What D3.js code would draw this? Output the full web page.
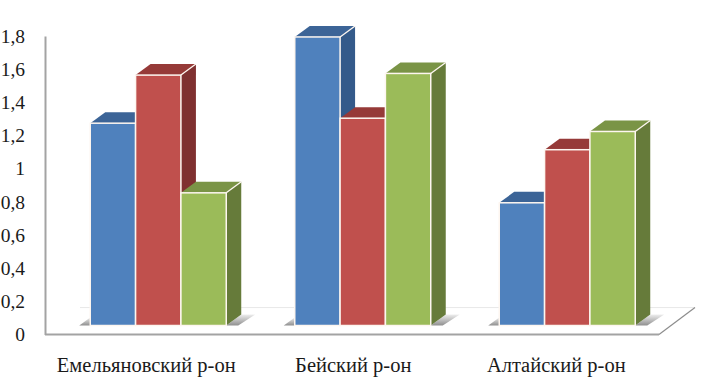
<!DOCTYPE html>
<html>
<head>
<meta charset="utf-8">
<script src="https://cdn.jsdelivr.net/npm/d3@7"></script>
<style>
html, body { margin: 0; padding: 0; background: #fff; }
svg { display: block; }
text { font-family: "Liberation Serif", serif; fill: #1a1a1a; }
</style>
</head>
<body>
<svg id="chart" width="703" height="378"></svg>
<script>
"use strict";
var categories = ["Емельяновский р-он", "Бейский р-он", "Алтайский р-он"];
var seriesNames = ["a", "b", "c"];
var seriesA = [1.22, 1.74, 0.74];
var seriesB = [1.51, 1.25, 1.06];
var seriesC = [0.80, 1.52, 1.17];
var tickValues = [0, 0.2, 0.4, 0.6, 0.8, 1, 1.2, 1.4, 1.6, 1.8];

var frontColors = ["#4f81bd", "#c0504d", "#9bbb59"];
var topColors = ["#3c6497", "#963a38", "#7a9446"];
var sideColors = ["#345a8a", "#7f3030", "#667b3a"];

// labels are not centered under the groups in the picture
var labelShift = [-12, -9.5, -11];

// depth of the fake 3d
var depthX = 15;
var depthY = -11;
var floorShift = 9;

var svg = d3.select("#chart");

var x = d3.scaleBand().domain(d3.range(categories.length)).range([56, 669.5])
	.paddingInner(0.335).paddingOuter(0.1675);
var xInner = d3.scaleBand().domain(seriesNames).range([0, x.bandwidth()]);
var y = d3.scaleLinear().domain([0, 1.8]).range([334.5, 36]);

var defs = svg.append("defs");
var grad = defs.append("linearGradient").attr("id", "shadow")
	.attr("x1", 0).attr("x2", 0).attr("y1", 1).attr("y2", 0);
grad.append("stop").attr("offset", 0).attr("stop-color", "#8f8f8f");
grad.append("stop").attr("offset", 1).attr("stop-color", "#eeeeee");

// floor
var floorLeft = 45;
var floorRight = 659;
var floorBack = y(0) + depthY * 2.45;
svg.append("line").attr("x1", 80).attr("x2", floorRight + 36)
	.attr("y1", floorBack).attr("y2", floorBack)
	.attr("stroke", "#e8e8e8").attr("stroke-width", 1);
svg.append("line").attr("x1", floorRight).attr("x2", floorRight + 36)
	.attr("y1", y(0)).attr("y2", floorBack)
	.attr("stroke", "#8c8c8c").attr("stroke-width", 1.2);
svg.append("line").attr("x1", floorLeft).attr("x2", floorRight)
	.attr("y1", y(0)).attr("y2", y(0))
	.attr("stroke", "#a3a3a3").attr("stroke-width", 2);

// y axis
var axis = svg.append("g").attr("transform", "translate(" + floorLeft + ",0)")
	.call(d3.axisLeft(y).tickValues(tickValues).tickSize(0).tickPadding(20)
		.tickFormat(function(d) { return String(d).replace(".", ","); }));
axis.select(".domain").attr("stroke", "#a3a3a3").attr("stroke-width", 2);
axis.selectAll("text").style("font-family", '"Liberation Serif", serif')
	.style("font-size", "19.5px").attr("fill", "#1a1a1a");

// category labels
svg.selectAll(".cat").data(categories).enter().append("text")
	.attr("class", "cat")
	.attr("x", function(d, i) { return x(i) + x.bandwidth() / 2 + labelShift[i]; })
	.attr("y", 372)
	.attr("text-anchor", "middle")
	.style("font-size", "20.5px")
	.text(function(d) { return d; });

function pts(list) {
	return list.map(function(p) { return p[0] + "," + p[1]; }).join(" ");
}

var values = [seriesA, seriesB, seriesC];

categories.forEach(function(cat, i) {
	var g = svg.append("g");
	var gx = x(i);
	var base = y(0) - floorShift;
	var last = gx + x.bandwidth();

	// shadow on the floor, left and right of the group
	g.append("polygon")
		.attr("points", pts([[gx - 11, base], [gx, base - 8], [gx, base]]))
		.attr("fill", "url(#shadow)");
	g.append("polygon")
		.attr("points", pts([[last, base], [last + depthX, base + depthY], [last + depthX + 14, base + depthY], [last + 12, base]]))
		.attr("fill", "url(#shadow)");

	seriesNames.forEach(function(s, j) {
		var bx = gx + xInner(s);
		var bw = xInner.bandwidth();
		var top = y(values[j][i]) - floorShift;
		// side face
		g.append("polygon")
			.attr("points", pts([[bx + bw, top], [bx + bw + depthX, top + depthY], [bx + bw + depthX, base + depthY], [bx + bw, base]]))
			.attr("fill", sideColors[j]);
		// top face
		g.append("polygon")
			.attr("points", pts([[bx, top], [bx + depthX, top + depthY], [bx + bw + depthX, top + depthY], [bx + bw, top]]))
			.attr("fill", topColors[j]);
		// front face
		g.append("rect")
			.attr("x", bx).attr("y", top)
			.attr("width", bw).attr("height", base - top)
			.attr("fill", frontColors[j])
			.attr("stroke", "#fdf6f0").attr("stroke-width", 1.5);
		// edge going back from the top corner
		g.append("line")
			.attr("x1", bx + bw).attr("y1", top)
			.attr("x2", bx + bw + depthX).attr("y2", top + depthY)
			.attr("stroke", "#fdf6f0").attr("stroke-width", 1.3);
	});
});
</script>
</body>
</html>
